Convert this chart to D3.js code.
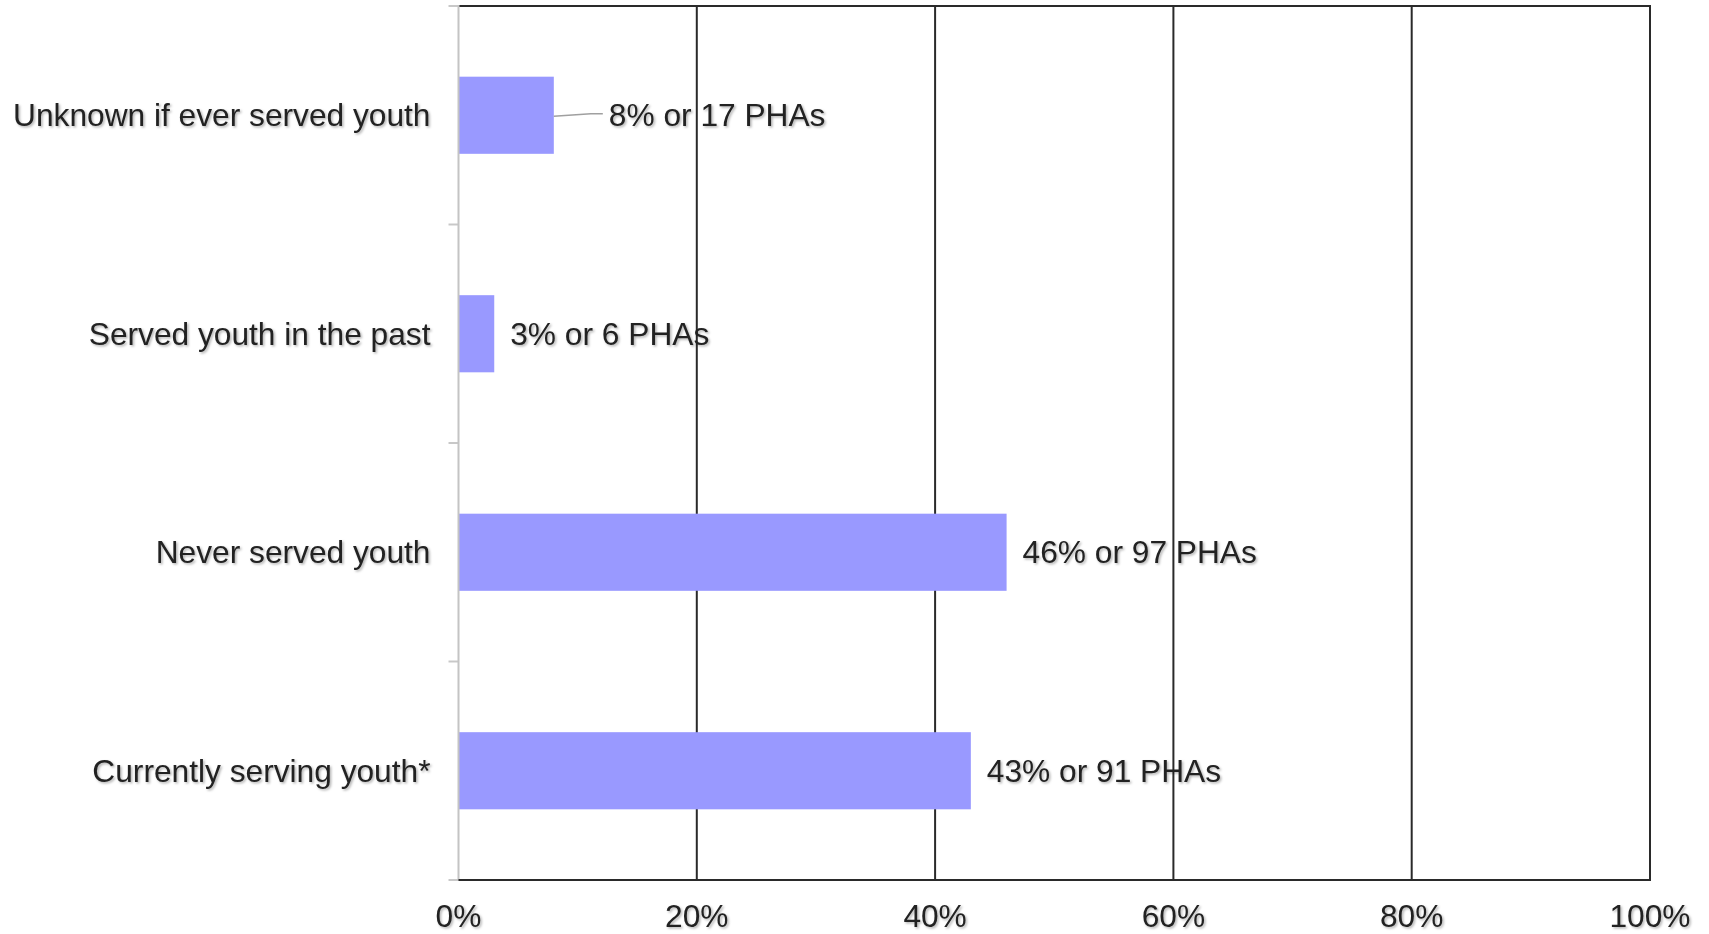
<!DOCTYPE html>
<html>
<head>
<meta charset="utf-8">
<script src="https://cdn.jsdelivr.net/npm/d3@7/dist/d3.min.js"></script>
<style>
  html, body { margin: 0; padding: 0; background: #fff; }
  svg { display: block; }
  text { font-family: "Liberation Sans", Arial, sans-serif; }
</style>
</head>
<body>
<svg id="chart" width="1709" height="934"></svg>
<script>
// Status of PHAs with respect to serving youth
const categories = [
  "Unknown if ever served youth",
  "Served youth in the past",
  "Never served youth",
  "Currently serving youth*"
];
const percents = [8, 3, 46, 43];
const phaCounts = [17, 6, 97, 91];
const xTicks = [0, 20, 40, 60, 80, 100];

const W = 1709, H = 934;
const margin = { top: 6, right: 59, bottom: 54, left: 458.5 };
const plotW = W - margin.left - margin.right;
const plotH = H - margin.top - margin.bottom;
const fontSize = 31.7;

const svg = d3.select("#chart");

// soft drop shadow used on all text
const defs = svg.append("defs");
const f = defs.append("filter").attr("id", "shadow")
  .attr("x", "-5%").attr("y", "-20%").attr("width", "110%").attr("height", "140%");
f.append("feDropShadow")
  .attr("dx", 1.5).attr("dy", 1.5).attr("stdDeviation", 1.2)
  .attr("flood-color", "#000").attr("flood-opacity", 0.3);

const g = svg.append("g").attr("transform", `translate(${margin.left},${margin.top})`);

const x = d3.scaleLinear().domain([0, 100]).range([0, plotW]);
const y = d3.scaleBand().domain(categories).range([0, plotH])
  .paddingInner(0.647).paddingOuter(0.3235);

// vertical gridlines and frame
g.selectAll("line.grid")
  .data(xTicks.filter(d => d > 0))
  .join("line")
  .attr("class", "grid")
  .attr("x1", d => x(d)).attr("x2", d => x(d))
  .attr("y1", 0).attr("y2", plotH)
  .attr("stroke", "#2a2a2a").attr("stroke-width", 2);

g.append("line")
  .attr("x1", 0).attr("x2", plotW + 1)
  .attr("y1", 0).attr("y2", 0)
  .attr("stroke", "#2a2a2a").attr("stroke-width", 2);

// bars
g.selectAll("rect.bar")
  .data(categories)
  .join("rect")
  .attr("class", "bar")
  .attr("x", 0)
  .attr("y", d => y(d))
  .attr("width", (d, i) => x(percents[i]))
  .attr("height", y.bandwidth())
  .attr("fill", "#9999ff");

// left axis with band-boundary ticks
const bounds = d3.range(categories.length + 1).map(i => i * y.step());
g.selectAll("line.ytick")
  .data(bounds)
  .join("line")
  .attr("class", "ytick")
  .attr("x1", -10).attr("x2", 0)
  .attr("y1", d => d).attr("y2", d => d)
  .attr("stroke", "#c8c8c8").attr("stroke-width", 2);

g.append("line")
  .attr("x1", 0).attr("x2", 0)
  .attr("y1", -1).attr("y2", plotH + 1)
  .attr("stroke", "#c4c4c4").attr("stroke-width", 2);

// bottom axis line
g.append("line")
  .attr("x1", 0).attr("x2", plotW + 1)
  .attr("y1", plotH).attr("y2", plotH)
  .attr("stroke", "#2a2a2a").attr("stroke-width", 2);

// x tick labels
g.selectAll("text.xlab")
  .data(xTicks)
  .join("text")
  .attr("class", "xlab")
  .attr("x", d => x(d))
  .attr("y", plotH + 47)
  .attr("text-anchor", "middle")
  .attr("font-size", fontSize)
  .attr("fill", "#222")
  .attr("filter", "url(#shadow)")
  .text(d => d + "%");

// category labels
g.selectAll("text.cat")
  .data(categories)
  .join("text")
  .attr("class", "cat")
  .attr("x", -28)
  .attr("y", d => y(d) + y.bandwidth() / 2 + 11)
  .attr("text-anchor", "end")
  .attr("font-size", fontSize)
  .attr("fill", "#222")
  .attr("filter", "url(#shadow)")
  .text(d => d);

// value labels; the small first bar uses a leader line
const labelOffset = (i) => (i === 0 ? 55 : 16);

g.selectAll("path.leader")
  .data(categories.filter((d, i) => i === 0))
  .join("path")
  .attr("class", "leader")
  .attr("d", d => {
    const i = categories.indexOf(d);
    const x0 = x(percents[i]);
    const cy = y(d) + y.bandwidth() / 2;
    return `M${x0},${cy + 1} L${x0 + 37},${cy - 1.5} L${x0 + 49},${cy - 1.5}`;
  })
  .attr("fill", "none")
  .attr("stroke", "#a0a0a0")
  .attr("stroke-width", 1.5);

g.selectAll("text.val")
  .data(categories)
  .join("text")
  .attr("class", "val")
  .attr("x", (d, i) => x(percents[i]) + labelOffset(i))
  .attr("y", d => y(d) + y.bandwidth() / 2 + 11)
  .attr("font-size", fontSize)
  .attr("fill", "#222")
  .attr("filter", "url(#shadow)")
  .text((d, i) => `${percents[i]}% or ${phaCounts[i]} PHAs`);
</script>
</body>
</html>
